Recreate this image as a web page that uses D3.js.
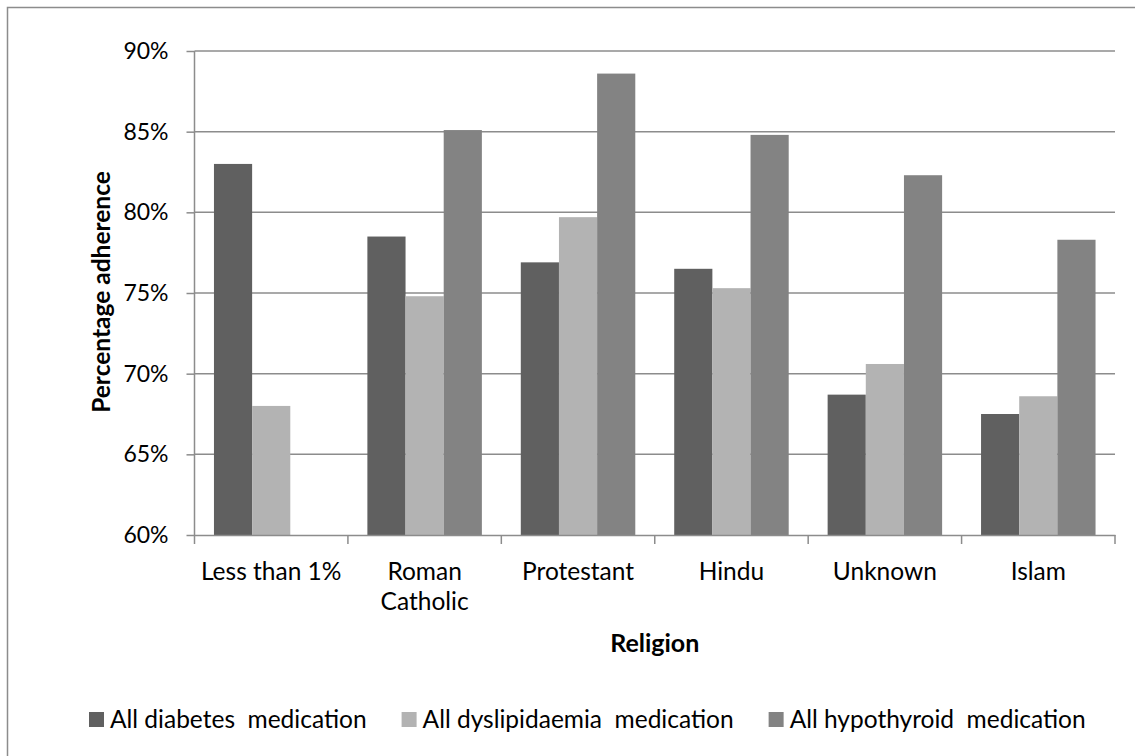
<!DOCTYPE html>
<html>
<head>
<meta charset="utf-8">
<script src="https://cdn.jsdelivr.net/npm/d3@7"></script>
<style>
  body { margin: 0; background: #fff; }
  text { font-family: Lato, "Open Sans", sans-serif; fill: #000; white-space: pre; }
</style>
</head>
<body>
<div id="chart"></div>
<script>
// data
let religions = ['Less than 1%', 'Roman Catholic', 'Protestant', 'Hindu', 'Unknown', 'Islam']
let seriesNames = ['All diabetes  medication', 'All dyslipidaemia  medication', 'All hypothyroid  medication']
let diabetes = [0.830, 0.785, 0.769, 0.765, 0.687, 0.675]
let dyslipidaemia = [0.680, 0.748, 0.797, 0.753, 0.706, 0.686]
let hypothyroid = [null, 0.851, 0.886, 0.848, 0.823, 0.783]
let yTicks = [0.60, 0.65, 0.70, 0.75, 0.80, 0.85, 0.90]
let colors = ['#606060', '#b3b3b3', '#838383']

let width = 1135, height = 756

let svg = d3.select('#chart').append('svg')
    .attr('width', width)
    .attr('height', height)

// chart frame
svg.append('rect')
    .attr('x', 7.5)
    .attr('y', 7.5)
    .attr('width', width + 20)
    .attr('height', height + 20)
    .attr('fill', 'none')
    .attr('stroke', '#8c8c8c')
    .attr('stroke-width', 1.5)

let plotLeft = 194.5, plotRight = 1115, plotTop = 51, plotBottom = 535

let xScale = d3.scaleBand().domain(religions).range([plotLeft, plotRight])
let inner = d3.scaleBand().domain(d3.range(3)).range([0, xScale.bandwidth()]).paddingOuter(0.51)
let yScale = d3.scaleLinear().domain([0.6, 0.9]).range([plotBottom, plotTop])

// gridlines + y axis
let yAxis = svg.append('g')
    .attr('class', 'axis axis--y')
    .attr('transform', 'translate(' + plotLeft + ',0)')
    .call(d3.axisLeft(yScale).tickValues(yTicks).tickSize(8).tickPadding(18)
        .tickFormat(d3.format('.0%')))

yAxis.select('.domain').remove()
yAxis.selectAll('line').attr('stroke', '#8c8c8c').attr('stroke-width', 1.5)
yAxis.selectAll('text').attr('font-size', 23).attr('font-family', 'Lato')

svg.append('g')
    .selectAll('line')
    .data(yTicks.slice(1))
    .enter().append('line')
    .attr('x1', plotLeft)
    .attr('x2', plotRight)
    .attr('y1', d => yScale(d))
    .attr('y2', d => yScale(d))
    .attr('stroke', '#8c8c8c')
    .attr('stroke-width', 1.5)

// bars
let rows = []
religions.forEach(function(r, i){
    [diabetes[i], dyslipidaemia[i], hypothyroid[i]].forEach(function(v, k){
        if(v != null) rows.push({cat: r, k: k, value: v})
    })
})

svg.append('g')
    .selectAll('rect')
    .data(rows)
    .enter().append('rect')
    .attr('x', d => xScale(d.cat) + inner(d.k))
    .attr('y', d => yScale(d.value))
    .attr('width', inner.bandwidth())
    .attr('height', d => plotBottom - yScale(d.value))
    .attr('fill', d => colors[d.k])

// axes lines
svg.append('line')
    .attr('x1', plotLeft).attr('x2', plotLeft)
    .attr('y1', plotTop).attr('y2', plotBottom)
    .attr('stroke', '#8c8c8c').attr('stroke-width', 1.5)

let xAxis = svg.append('g')
    .attr('class', 'axis axis--x')
    .attr('transform', 'translate(0,' + plotBottom + ')')
    .call(d3.axisBottom(xScale).tickSize(0).tickPadding(0).tickFormat(''))
xAxis.select('.domain').attr('stroke', '#8c8c8c').attr('stroke-width', 1.5)
xAxis.selectAll('.tick').remove()

// category boundary ticks
let bounds = religions.map(r => xScale(r)).concat([plotRight])
svg.append('g')
    .selectAll('line')
    .data(bounds)
    .enter().append('line')
    .attr('x1', d => d).attr('x2', d => d)
    .attr('y1', plotBottom).attr('y2', plotBottom + 9)
    .attr('stroke', '#8c8c8c').attr('stroke-width', 1.5)

// category labels, wrapped when too wide
let catLabels = svg.append('g')
religions.forEach(function(r){
    let cx = xScale(r) + xScale.bandwidth() / 2
    let t = catLabels.append('text')
        .attr('x', cx)
        .attr('y', 580)
        .attr('text-anchor', 'middle')
        .attr('font-size', 24.5)
        .text(r)
    if(t.node().getComputedTextLength() > xScale.bandwidth() - 8){
        let words = r.split(' ')
        t.text(words[0])
        catLabels.append('text')
            .attr('x', cx)
            .attr('y', 610)
            .attr('text-anchor', 'middle')
            .attr('font-size', 24.5)
            .text(words.slice(1).join(' '))
    }
})

// axis titles
svg.append('text')
    .attr('x', (plotLeft + plotRight) / 2)
    .attr('y', 652)
    .attr('text-anchor', 'middle')
    .attr('font-size', 25)
    .attr('font-weight', 'bold')
    .text('Religion')

svg.append('text')
    .attr('transform', 'translate(110,' + 292 + ') rotate(-90)')
    .attr('text-anchor', 'middle')
    .attr('font-size', 24.5)
    .attr('font-weight', 'bold')
    .text('Percentage adherence')

// legend
let lx = 89
seriesNames.forEach(function(name, k){
    svg.append('rect')
        .attr('x', lx)
        .attr('y', 712)
        .attr('width', 15)
        .attr('height', 15)
        .attr('fill', colors[k])
    let t = svg.append('text')
        .attr('x', lx + 21)
        .attr('y', 728)
        .attr('font-size', 24.5)
        .text(name)
    lx = lx + 21 + t.node().getComputedTextLength() + 35
})
</script>
</body>
</html>
